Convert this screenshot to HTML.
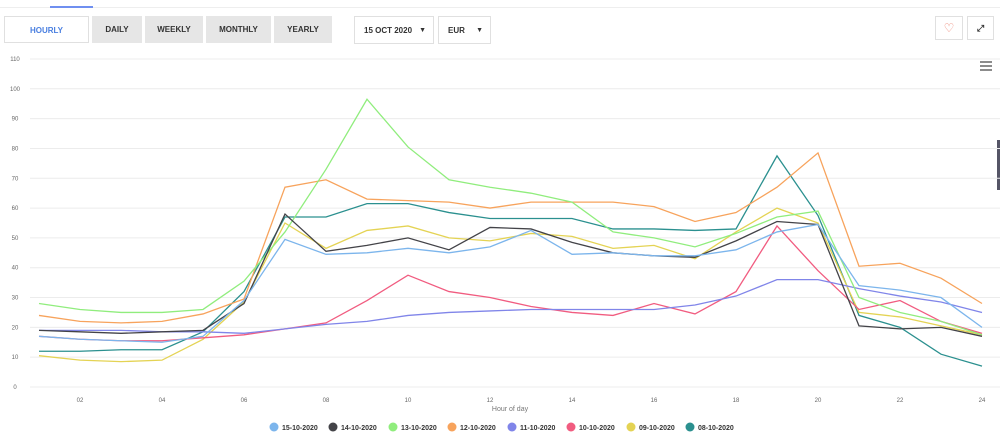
<!DOCTYPE html>
<html><head><style>
body{margin:0;width:1000px;height:440px;background:#fff;font-family:"Liberation Sans",sans-serif;position:relative;overflow:hidden}
.b{position:absolute;top:16px;height:27px;line-height:27px;text-align:center;font-size:8px;font-weight:bold;color:#333;background:#e6e6e6;box-sizing:border-box}
.w{background:#fff;border:1px solid #e0e0e0}
</style></head><body>
<div style="position:absolute;left:0;top:7px;width:1000px;height:1px;background:#eee"></div>
<div style="position:absolute;left:50px;top:6px;width:43px;height:2px;background:#6f8ff0"></div>
<div class="b w" style="left:4px;width:85px;color:#4a7fe0">HOURLY</div>
<div class="b" style="left:92px;width:50px">DAILY</div>
<div class="b" style="left:145px;width:58px">WEEKLY</div>
<div class="b" style="left:206px;width:65px">MONTHLY</div>
<div class="b" style="left:274px;width:58px">YEARLY</div>
<div class="b w" style="left:354px;width:80px;height:28px;text-align:left;padding-left:9px">15 OCT 2020<span style="position:absolute;right:7px;font-size:7px">▼</span></div>
<div class="b w" style="left:438px;width:53px;height:28px;text-align:left;padding-left:9px">EUR<span style="position:absolute;right:7px;font-size:7px">▼</span></div>
<div class="b w" style="left:935px;width:28px;height:24px;line-height:22px;color:#e87;font-size:12px;font-weight:normal">♡</div>
<div class="b w" style="left:967px;width:27px;height:24px;line-height:22px;font-size:9px">⤢</div>
<div style="position:absolute;left:997px;top:140px;width:3px;height:50px;background:#556"></div>
<svg width="1000" height="440" style="position:absolute;left:0;top:0" id="s">
<g id="g" font-size="6" fill="#666"></g>
<g stroke="#666" stroke-width="1.5"><line x1="980" y1="62" x2="992" y2="62"/><line x1="980" y1="66" x2="992" y2="66"/><line x1="980" y1="70" x2="992" y2="70"/></g>
<text x="510" y="411" font-size="7" fill="#777" text-anchor="middle">Hour of day</text>
<g font-size="7" font-weight="bold" fill="#333">
<circle cx="274" cy="427" r="4.5" fill="#7cb5ec"/><text x="282" y="430">15-10-2020</text>
<circle cx="333" cy="427" r="4.5" fill="#434348"/><text x="341" y="430">14-10-2020</text>
<circle cx="393" cy="427" r="4.5" fill="#90ed7d"/><text x="401" y="430">13-10-2020</text>
<circle cx="452" cy="427" r="4.5" fill="#f7a35c"/><text x="460" y="430">12-10-2020</text>
<circle cx="512" cy="427" r="4.5" fill="#8085e9"/><text x="520" y="430">11-10-2020</text>
<circle cx="571" cy="427" r="4.5" fill="#f15c80"/><text x="579" y="430">10-10-2020</text>
<circle cx="631" cy="427" r="4.5" fill="#e4d354"/><text x="639" y="430">09-10-2020</text>
<circle cx="690" cy="427" r="4.5" fill="#2b908f"/><text x="698" y="430">08-10-2020</text>
</g>
<g id="l" fill="none" stroke-width="1.3"></g>
</svg>
<script>
var g=document.getElementById('g'),l=document.getElementById('l'),h='';
function Y(v){return 387-v*2.982}function X(h){return 80+(h-2)*41}
for(var v=0;v<=110;v+=10){h+='<line x1="30" x2="1000" y1="'+Y(v)+'" y2="'+Y(v)+'" stroke="#ececec"/><text x="15" y="'+(Y(v)+2)+'" text-anchor="middle">'+v+'</text>';}
for(var k=2;k<=24;k+=2){h+='<text x="'+X(k)+'" y="402" text-anchor="middle">'+(k<10?'0'+k:k)+'</text>';}
g.innerHTML=h;
var d=[['#7cb5ec',[17,16,15.5,15,17,29,49.5,44.5,45,46.5,45,47,52.5,44.5,45,44,44,46,52,54.5,34,32.5,30,20]],
['#434348',[19,18.5,18,18.5,19,28,58,45.5,47.5,50,46,53.5,53,48.5,45,44,43.5,49,55.5,54.5,20.5,19.5,20,17]],
['#90ed7d',[28,26,25,25,26,35.5,52,73,96.5,80.5,69.5,67,65,62,52,50,47,51.5,57,59,30,25,22,17.5]],
['#f7a35c',[24,22,21.5,22,24.5,29.5,67,69.5,63,62.5,62,60,62,62,62,60.5,55.5,58.5,67,78.5,40.5,41.5,36.5,28]],
['#8085e9',[19,19,19,18.5,18.5,18,19.5,21,22,24,25,25.5,26,26,26,26,27.5,30.5,36,36,33,30.5,28.5,25]],
['#f15c80',[17,16,15.5,15.5,16.5,17.5,19.5,21.5,29,37.5,32,30,27,25,24,28,24.5,32,54,39,26,29,22,18]],
['#e4d354',[10.5,9,8.5,9,16,28.5,55,46.5,52.5,54,50,49,51.5,50.5,46.5,47.5,43,52,60,55,25,23.5,20.5,17.5]],
['#2b908f',[12,12,12.5,12.5,18.5,32,57,57,61.5,61.5,58.5,56.5,56.5,56.5,53,53,52.5,53,77.5,57.5,24,20,11,7]]];
var s='';d.reverse().forEach(function(r){s+='<polyline stroke="'+r[0]+'" points="'+r[1].map(function(v,i){return X(i+1)+','+Y(v)}).join(' ')+'"/>';});
l.innerHTML=s;
</script>
</body></html>
